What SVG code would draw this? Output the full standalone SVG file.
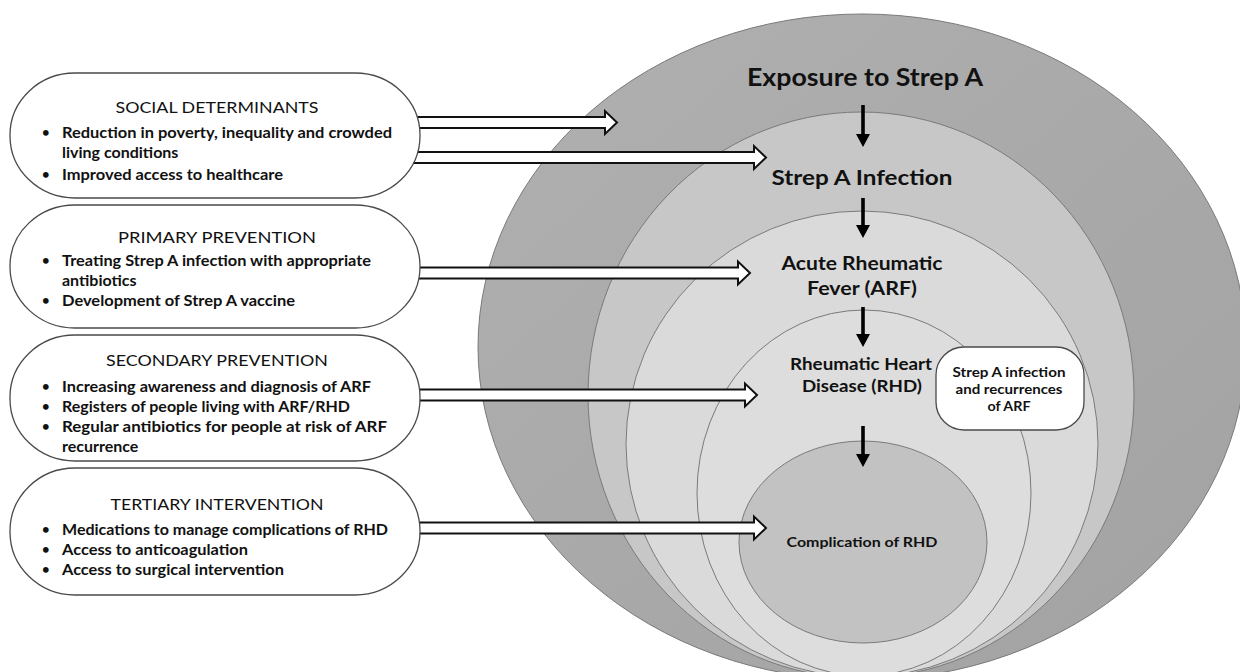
<svg xmlns="http://www.w3.org/2000/svg" width="1240" height="672" viewBox="0 0 1240 672">
<style>
.ring{stroke:#7a7a7a;stroke-width:1}
.box{fill:#fff;stroke:#4a4a4a;stroke-width:1.3}
.title{font-family:Lato,"Liberation Sans",sans-serif;font-size:16px;fill:#111;text-anchor:middle}
.item{font-family:Lato,"Liberation Sans",sans-serif;font-size:16px;font-weight:bold;fill:#111}
.bul{font-family:Lato,"Liberation Sans",sans-serif;font-size:13px;font-weight:bold;fill:#111}
.lbl{font-family:Lato,"Liberation Sans",sans-serif;font-weight:bold;fill:#111;text-anchor:middle}
.blk{fill:#fff;stroke:#111;stroke-width:2;stroke-linejoin:miter}
.down{fill:#000}
</style>
<defs>
<linearGradient id="gOuter" x1="0" y1="0" x2="1" y2="1">
<stop offset="0" stop-color="#b0b0b0"/>
<stop offset="1" stop-color="#a2a2a2"/>
</linearGradient>
</defs>
<rect width="1240" height="672" fill="#fff"/>
<g id="rings">
<ellipse id="exposure" class="ring" cx="862" cy="347" rx="384" ry="333" fill="url(#gOuter)"/>
<ellipse id="infection" class="ring" cx="861" cy="395" rx="273" ry="283" fill="#c7c7c7"/>
<ellipse id="arf" class="ring" cx="862" cy="444" rx="236" ry="233" fill="#dadada"/>
<ellipse id="rhd" class="ring" cx="864" cy="493" rx="167" ry="183" fill="#dddddd"/>
<ellipse id="complication" class="ring" cx="863" cy="542" rx="124" ry="101" fill="#c2c2c2"/>
</g>
<g id="ring-labels">
<text class="lbl" x="865" y="86" font-size="24" textLength="236" lengthAdjust="spacingAndGlyphs">Exposure to Strep A</text>
<text class="lbl" x="862" y="185" font-size="21" textLength="181" lengthAdjust="spacingAndGlyphs">Strep A Infection</text>
<text class="lbl" x="862" y="270" font-size="18" textLength="161" lengthAdjust="spacingAndGlyphs">Acute Rheumatic</text>
<text class="lbl" x="862" y="295" font-size="18" textLength="110" lengthAdjust="spacingAndGlyphs">Fever (ARF)</text>
<text class="lbl" x="861" y="370" font-size="17" textLength="142" lengthAdjust="spacingAndGlyphs">Rheumatic Heart</text>
<text class="lbl" x="862" y="392" font-size="17" textLength="120" lengthAdjust="spacingAndGlyphs">Disease (RHD)</text>
<text class="lbl" x="862" y="547" font-size="14" textLength="151" lengthAdjust="spacingAndGlyphs">Complication of RHD</text>
</g>
<g id="recurrence-box">
<rect class="box" x="936" y="347" width="148" height="83" rx="28" ry="28"/>
<text class="lbl" x="1009" y="377" font-size="14" textLength="113" lengthAdjust="spacingAndGlyphs">Strep A infection</text>
<text class="lbl" x="1009" y="394" font-size="14" textLength="107" lengthAdjust="spacingAndGlyphs">and recurrences</text>
<text class="lbl" x="1009" y="411" font-size="14" textLength="43" lengthAdjust="spacingAndGlyphs">of ARF</text>
</g>
<g id="connectors">
<path class="blk" d="M400,117 H605 V111 L617,122.5 L605,134 V128 H400 Z"/>
<path class="blk" d="M400,152 H754 V146 L766,157.5 L754,169 V163 H400 Z"/>
<path class="blk" d="M400,267.5 H738 V261.5 L750,273 L738,284.5 V278.5 H400 Z"/>
<path class="blk" d="M400,389.5 H745 V383.5 L757,395 L745,406.5 V400.5 H400 Z"/>
<path class="blk" d="M400,522.5 H754 V516.5 L766,528 L754,539.5 V533.5 H400 Z"/>
<path class="down" d="M861.2,105 H864.8 V134 H870 L863,147 L856,134 H861.2 Z"/>
<path class="down" d="M861.2,198 H864.8 V225 H870 L863,238 L856,225 H861.2 Z"/>
<path class="down" d="M861.2,307 H864.8 V334 H870 L863,347 L856,334 H861.2 Z"/>
<path class="down" d="M861.2,426 H864.8 V454 H870 L863,467 L856,454 H861.2 Z"/>
</g>
<g id="social">
<rect class="box" x="10" y="73" width="410" height="125" rx="65" ry="62"/>
<text class="title" x="217" y="113" textLength="203" lengthAdjust="spacingAndGlyphs">SOCIAL DETERMINANTS</text>
<text class="bul" x="42" y="137">•</text>
<text class="item" x="62" y="138" textLength="330" lengthAdjust="spacingAndGlyphs">Reduction in poverty, inequality and crowded</text>
<text class="item" x="62" y="158">living conditions</text>
<text class="bul" x="42" y="179">•</text>
<text class="item" x="62" y="180" textLength="221" lengthAdjust="spacingAndGlyphs">Improved access to healthcare</text>
</g>
<g id="primary">
<rect class="box" x="10" y="205" width="410" height="123" rx="65" ry="61"/>
<text class="title" x="217" y="243" textLength="198" lengthAdjust="spacingAndGlyphs">PRIMARY PREVENTION</text>
<text class="bul" x="42" y="265">•</text>
<text class="item" x="62" y="266" textLength="309" lengthAdjust="spacingAndGlyphs">Treating Strep A infection with appropriate</text>
<text class="item" x="62" y="286">antibiotics</text>
<text class="bul" x="42" y="305">•</text>
<text class="item" x="62" y="306" textLength="233" lengthAdjust="spacingAndGlyphs">Development of Strep A vaccine</text>
</g>
<g id="secondary">
<rect class="box" x="10" y="335" width="410" height="126" rx="65" ry="62"/>
<text class="title" x="217" y="366" textLength="222" lengthAdjust="spacingAndGlyphs">SECONDARY PREVENTION</text>
<text class="bul" x="42" y="391">•</text>
<text class="item" x="62" y="392" textLength="309" lengthAdjust="spacingAndGlyphs">Increasing awareness and diagnosis of ARF</text>
<text class="bul" x="42" y="411">•</text>
<text class="item" x="62" y="412" textLength="288" lengthAdjust="spacingAndGlyphs">Registers of people living with ARF/RHD</text>
<text class="bul" x="42" y="431">•</text>
<text class="item" x="62" y="432" textLength="325" lengthAdjust="spacingAndGlyphs">Regular antibiotics for people at risk of ARF</text>
<text class="item" x="62" y="452">recurrence</text>
</g>
<g id="tertiary">
<rect class="box" x="10" y="468" width="410" height="127" rx="65" ry="63"/>
<text class="title" x="217" y="510" textLength="213" lengthAdjust="spacingAndGlyphs">TERTIARY INTERVENTION</text>
<text class="bul" x="42" y="534">•</text>
<text class="item" x="62" y="535" textLength="326" lengthAdjust="spacingAndGlyphs">Medications to manage complications of RHD</text>
<text class="bul" x="42" y="554">•</text>
<text class="item" x="62" y="555" textLength="186" lengthAdjust="spacingAndGlyphs">Access to anticoagulation</text>
<text class="bul" x="42" y="574">•</text>
<text class="item" x="62" y="575" textLength="222" lengthAdjust="spacingAndGlyphs">Access to surgical intervention</text>
</g>
</svg>
